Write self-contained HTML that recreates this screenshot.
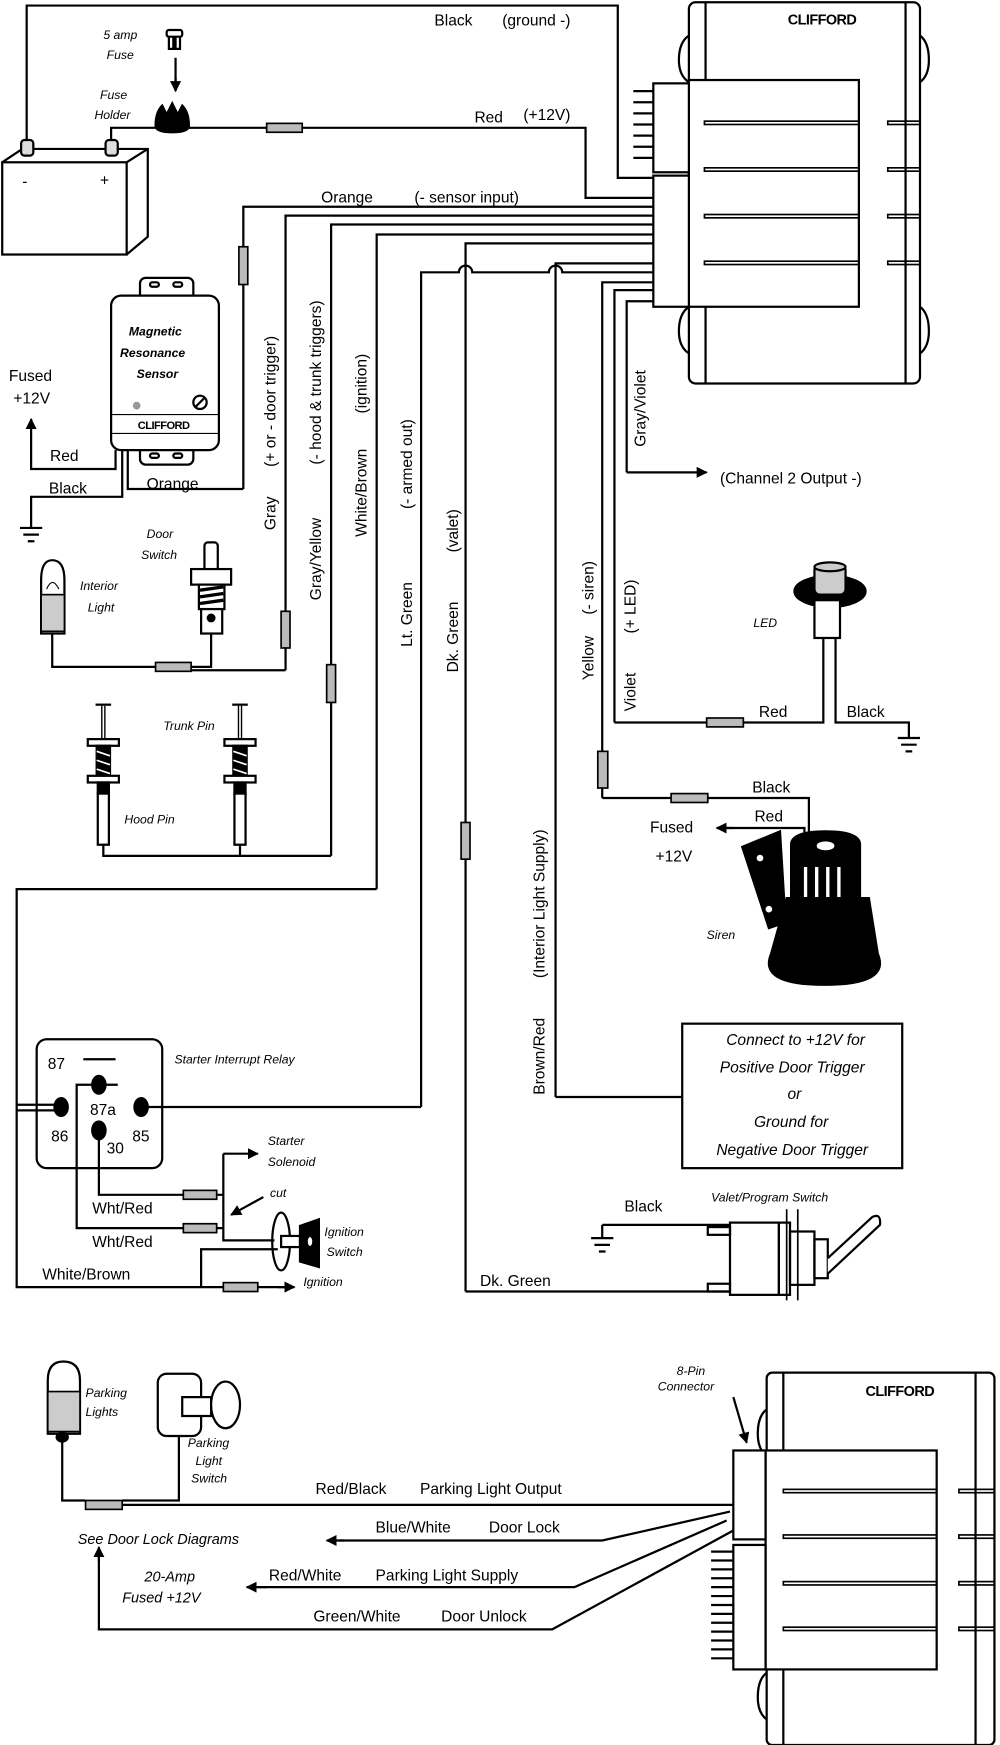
<!DOCTYPE html>
<html><head><meta charset="utf-8"><style>
html,body{margin:0;padding:0;background:#fff}
svg{display:block}
text{font-family:"Liberation Sans",sans-serif;fill:#000}
.l{font-size:14px}
.i{font-size:11px;font-style:italic}
.ib{font-size:13px;font-style:italic}
.v{font-size:14px}
</style></head><body>
<svg width="1000" height="1745" viewBox="0 0 900 1570" preserveAspectRatio="none" xmlns="http://www.w3.org/2000/svg">
<defs>
<marker id="ar" viewBox="0 0 10 10" refX="9" refY="5" markerWidth="5" markerHeight="5" orient="auto"><path d="M0,0L10,5L0,10z" fill="#000"/></marker>
</defs>
<g fill="none" stroke="#000" stroke-width="2">
<!-- top module -->
<rect x="620" y="2" width="208" height="343" rx="6"/>
<line x1="635" y1="2" x2="635" y2="345"/><line x1="815" y1="2" x2="815" y2="345"/>
<path d="M620,32 q-9,6 -9,22 q0,14 9,20" /><path d="M828,32 q8,6 8,22 q0,14 -8,20"/>
<path d="M620,276 q-9,6 -9,22 q0,14 9,20"/><path d="M828,276 q8,6 8,22 q0,14 -8,20"/>
<rect x="620" y="72" width="153" height="204" fill="#fff"/>
<rect x="588" y="75" width="32" height="80" fill="#fff"/>
<rect x="588" y="158" width="32" height="118" fill="#fff"/>
<g stroke-width="2"><line x1="570" y1="82" x2="588" y2="82"/><line x1="570" y1="92" x2="588" y2="92"/><line x1="570" y1="102" x2="588" y2="102"/><line x1="570" y1="112" x2="588" y2="112"/><line x1="570" y1="122" x2="588" y2="122"/><line x1="570" y1="132" x2="588" y2="132"/><line x1="570" y1="142" x2="588" y2="142"/></g>
<g stroke-width="1.5"><rect x="634" y="109" width="139" height="3"/><rect x="634" y="151" width="139" height="3"/><rect x="634" y="193" width="139" height="3"/><rect x="634" y="235" width="139" height="3"/>
<rect x="799" y="109" width="29" height="3"/><rect x="799" y="151" width="29" height="3"/><rect x="799" y="193" width="29" height="3"/><rect x="799" y="235" width="29" height="3"/></g>

<!-- battery -->
<rect x="2" y="146" width="112" height="83"/>
<path d="M2,146 L20,134 L133,134 L133,213 L114,229 M114,146 L133,134"/>
<rect x="19" y="126" width="11" height="14" rx="3" fill="#ddd"/><rect x="95" y="126" width="11" height="14" rx="3" fill="#ddd"/>
<!-- black ground -->
<path d="M24,126 V5 H556 V160 H588"/>
<!-- red -->
<path d="M100,126 V115 H140 M165,115 H527 V178 H588"/>
<rect x="240" y="111" width="32" height="8" fill="#bbb" stroke-width="1.5"/>
<!-- wires to module -->
<path d="M219,440 V186 H588"/>
<path d="M257,603 V194 H588"/>
<path d="M298,770 V202 H588"/>
<path d="M339,800 V211 H588"/>
<path d="M419,1162 V219 H588"/>
<path d="M500,987 V237 H588"/>
<path d="M379,996 V245 H413 a6,6 0 0 1 12,0 H494 a6,6 0 0 1 12,0 H588"/>
<path d="M542,718 V254 H588"/>
<path d="M553,650 V261 H588"/>
<path d="M564,425 H636" marker-end="url(#ar)"/><path d="M564,425 V271 H588"/>
<!-- fuses -->
<g fill="#bbb" stroke-width="1.5">
<rect x="215" y="222" width="8" height="34"/>
<rect x="253" y="550" width="8" height="33"/>
<rect x="294" y="598" width="8" height="34"/>
<rect x="415" y="740" width="8" height="33"/>
<rect x="538" y="676" width="9" height="33"/>
<rect x="636" y="646" width="33" height="8"/>
<rect x="604" y="714" width="33" height="8"/>
<rect x="140" y="596" width="32" height="8"/>
</g>
<!-- sensor -->
<rect x="126" y="250" width="48" height="20" rx="5" fill="#fff"/>
<rect x="126" y="398" width="48" height="20" rx="5" fill="#fff"/>
<rect x="100" y="266" width="97" height="139" rx="9" fill="#fff"/>
<line x1="100" y1="373" x2="197" y2="373" stroke-width="1"/>
<line x1="100" y1="390" x2="197" y2="390" stroke-width="1"/>
<rect x="135" y="254" width="8" height="4" rx="2"/><rect x="156" y="254" width="8" height="4" rx="2"/>
<rect x="135" y="408" width="8" height="4" rx="2"/><rect x="156" y="408" width="8" height="4" rx="2"/>
<circle cx="180" cy="362" r="6"/><line x1="176" y1="366" x2="184" y2="358"/>
<circle cx="123" cy="365" r="2.5" fill="#999" stroke="#999"/>
<path d="M104,405 V422 H28 V378"/><path d="M28,380 l0,-3" marker-end="url(#ar)"/>
<path d="M110,405 V447 H28 V475"/>
<path d="M18,475 H38 M21,481 H35 M25,487 H31"/>
<path d="M115,405 V440 H219"/>
<!-- interior light -->
<path d="M37,570 V522 q0,-18 10,-18 q11,0 11,18 V570 z" fill="#fff"/>
<rect x="37" y="535" width="21" height="33" fill="#ccc" stroke-width="1.5"/>
<path d="M42,530 q5,-12 11,0" stroke-width="1"/>
<path d="M47,570 V600 H140 M172,600 H190 V570"/>
<path d="M172,603 H257"/>
<!-- door switch -->
<rect x="184" y="488" width="12" height="27" rx="3" fill="#fff"/>
<rect x="172" y="512" width="36" height="14" fill="#fff"/>
<rect x="179" y="526" width="23" height="22" fill="#fff"/>
<path d="M180,531 L201,528 M180,537 L201,534 M180,543 L201,540" stroke-width="3"/>
<rect x="181" y="548" width="19" height="22" fill="#fff"/>
<circle cx="190" cy="556" r="3" fill="#000"/>
<!-- pins -->
<g id="pin">
<line x1="93" y1="635" x2="93" y2="665" stroke-width="4"/>
<line x1="93" y1="635" x2="93" y2="665" stroke="#fff" stroke-width="1.5"/>
<line x1="86" y1="634" x2="100" y2="634"/>
<rect x="79" y="665" width="28" height="6" fill="#fff"/>
<rect x="87" y="671" width="12" height="29" fill="#000"/>
<path d="M87,676 L99,680 M87,684 L99,688 M87,692 L99,696" stroke="#fff" stroke-width="1.5"/>
<rect x="79" y="698" width="28" height="6" fill="#fff"/>
<rect x="88" y="704" width="10" height="10" fill="#000"/>
<rect x="88" y="714" width="10" height="46" fill="#fff"/>
</g>
<use href="#pin" x="123"/>
<path d="M93,760 V770 H298 M216,760 V770"/>
<!-- white/brown to relay -->
<path d="M339,800 H15 V1158 H201 M232,1158 H263" /><path d="M250,1158 H265" marker-end="url(#ar)"/>
<!-- relay -->
<rect x="33" y="935" width="113" height="116" rx="9"/>
<line x1="75" y1="953" x2="104" y2="953"/>
<ellipse cx="89" cy="976" rx="6" ry="8" fill="#000"/>
<ellipse cx="55" cy="996" rx="6" ry="8" fill="#000"/>
<ellipse cx="127" cy="996" rx="6" ry="8" fill="#000"/>
<ellipse cx="89" cy="1017" rx="6" ry="8" fill="#000"/>
<path d="M106,976 H69 V1105 H165 M195,1105 H201"/>
<path d="M89,1017 V1075 H165 M195,1075 H201"/>
<path d="M15,994 H55 M15,999 H55"/>
<path d="M127,996 H379"/>
<path d="M201,1038 V1116 H247"/>
<path d="M201,1038 H232" marker-end="url(#ar)"/>
<path d="M237,1077 L208,1093" marker-end="url(#ar)"/>
<path d="M181,1158 V1124 H250"/>
<g fill="#bbb" stroke-width="1.5"><rect x="165" y="1071" width="30" height="8"/><rect x="165" y="1101" width="30" height="8"/><rect x="201" y="1154" width="31" height="8"/></g>
<ellipse cx="253" cy="1117" rx="8" ry="26"/>
<rect x="253" y="1112" width="17" height="10" fill="#fff"/>
<path d="M270,1103 L287,1097 L287,1140 L270,1135 z" fill="#000"/>
<ellipse cx="279" cy="1117" rx="2" ry="4" fill="#fff" stroke="none"/>
<!-- brown/red box -->
<path d="M500,987 H614"/>
<rect x="614" y="921" width="198" height="130"/>
<!-- valet switch -->
<path d="M542,1102 H657 M419,1162 H657"/>
<path d="M542,1102 V1114 M532,1114 H552 M535,1120 H549 M539,1126 H545"/>
<rect x="657" y="1100" width="44" height="65"/>
<rect x="637" y="1104" width="20" height="7"/><rect x="637" y="1155" width="20" height="7"/>
<rect x="701" y="1100" width="10" height="65"/>
<rect x="711" y="1108" width="22" height="48"/>
<rect x="733" y="1115" width="12" height="35"/>
<path d="M708,1088 V1170 M718,1088 V1170" stroke-width="1.5"/>
<path d="M745,1132 L785,1095 q8,-4 7,7 L745,1146" fill="#fff"/>
<!-- LED -->
<ellipse cx="747" cy="532" rx="32" ry="14" fill="#000"/>
<rect x="733" y="508" width="28" height="27" rx="5" fill="#ccc"/>
<ellipse cx="747" cy="510" rx="14" ry="4" fill="#ccc"/>
<rect x="733" y="540" width="23" height="34" fill="#fff"/>
<path d="M741,574 V650 H669 M636,650 H553"/>
<path d="M752,574 V650 H818 V664 M808,664 H828 M811,670 H825 M815,676 H821"/>
<!-- siren -->
<path d="M542,718 H604 M637,718 H728 V760"/>
<path d="M724,760 V745 H650"/><path d="M660,745 H645" marker-end="url(#ar)"/>
<path d="M668,762 L702,748 L707,830 L692,835 Z" fill="#000"/>
<circle cx="684" cy="772" r="3" fill="#fff" stroke="none"/><circle cx="692" cy="818" r="3" fill="#fff" stroke="none"/>
<path d="M712,810 V760 q0,-12 31,-12 q31,0 31,12 V810 Z" fill="#000"/>
<ellipse cx="743" cy="761" rx="8" ry="4" fill="#fff" stroke="none"/>
<path d="M725,780 V808 M735,780 V808 M745,780 V808 M755,780 V808" stroke="#fff" stroke-width="3"/>
<path d="M708,808 L782,808 L790,858 q12,28 -48,28 q-60,0 -48,-28 Z" fill="#000"/>

<!-- fuse holder and fuse -->
<path d="M140,113 q0,-12 6,-18 l4,8 l5,-10 l5,10 l4,-8 q6,6 6,18 q0,6 -15,6 q-15,0 -15,-6z" fill="#000"/>
<rect x="150" y="27" width="14" height="6" rx="2" fill="#fff"/>
<path d="M152,33 V44 H156 V33 M158,33 V44 H162 V33"/>
<path d="M158,52 V78"/><path d="M158,70 V82" marker-end="url(#ar)"/>

<!-- bottom module -->
<rect x="690" y="1235" width="205" height="335" rx="5"/>
<line x1="705" y1="1235" x2="705" y2="1570"/><line x1="878" y1="1235" x2="878" y2="1570"/>
<path d="M690,1268 q-8,6 -8,22 q0,14 8,20"/><path d="M690,1505 q-8,6 -8,22 q0,14 8,20"/>
<rect x="689" y="1305" width="154" height="197" fill="#fff"/>
<rect x="660" y="1305" width="29" height="80" fill="#fff"/>
<rect x="660" y="1390" width="29" height="112" fill="#fff"/>
<g stroke-width="2"><path d="M640,1396 H660 M640,1404 H660 M640,1412 H660 M640,1420 H660 M640,1428 H660 M640,1436 H660 M640,1444 H660 M640,1452 H660 M640,1460 H660 M640,1468 H660 M640,1476 H660 M640,1484 H660 M640,1492 H660"/></g>
<g stroke-width="1.5"><rect x="705" y="1340" width="138" height="3"/><rect x="705" y="1381" width="138" height="3"/><rect x="705" y="1423" width="138" height="3"/><rect x="705" y="1464" width="138" height="3"/>
<rect x="863" y="1340" width="32" height="3"/><rect x="863" y="1381" width="32" height="3"/><rect x="863" y="1423" width="32" height="3"/><rect x="863" y="1464" width="32" height="3"/></g>
<path d="M660,1257 L672,1298" marker-end="url(#ar)"/>
<!-- bottom wires -->
<path d="M110,1354 H660"/>
<rect x="77" y="1350" width="33" height="8" fill="#bbb" stroke-width="1.5"/>
<path d="M56,1293 V1350 H77 M110,1350 H161 V1292"/>
<path d="M657,1360 L542,1386 H305"/><path d="M310,1386 H294" marker-end="url(#ar)"/>
<path d="M654,1368 L517,1428 H232"/><path d="M240,1428 H222" marker-end="url(#ar)"/>
<path d="M660,1377 L497,1466 H89 V1400"/><path d="M89,1405 V1392" marker-end="url(#ar)"/>
<!-- parking light + switch -->
<path d="M43,1290 V1242 q0,-17 14,-17 q15,0 15,17 V1290 z" fill="#fff"/>
<rect x="43" y="1252" width="29" height="36" fill="#ccc" stroke-width="1.5"/>
<ellipse cx="56" cy="1293" rx="5" ry="4" fill="#000"/>
<rect x="142" y="1236" width="39" height="56" rx="8" fill="#fff"/>
<rect x="164" y="1257" width="26" height="17" fill="#fff"/>
<ellipse cx="203" cy="1264" rx="13" ry="21" fill="#fff"/>
</g>

<!-- text -->
<text class="l" x="391" y="23">Black</text><text class="l" x="452" y="23">(ground -)</text>
<text class="i" x="93" y="35">5 amp</text><text class="i" x="96" y="53">Fuse</text>
<text class="i" x="90" y="89">Fuse</text><text class="i" x="85" y="107">Holder</text>
<text class="l" x="427" y="110">Red</text><text class="l" x="471" y="108">(+12V)</text>
<text style="font-size:13px;font-weight:bold;letter-spacing:-0.5px" x="709" y="22">CLIFFORD</text>
<text style="font-size:14px" x="20" y="168">-</text><text style="font-size:14px" x="90" y="167">+</text>
<text class="l" x="289" y="182">Orange</text><text class="l" x="373" y="182">(- sensor input)</text>
<text style="font-size:11px;font-style:italic;font-weight:bold" x="116" y="302">Magnetic</text>
<text style="font-size:11px;font-style:italic;font-weight:bold" x="108" y="321">Resonance</text>
<text style="font-size:11px;font-style:italic;font-weight:bold" x="123" y="340">Sensor</text>
<text style="font-size:10px;font-weight:bold;letter-spacing:-0.5px" x="124" y="386">CLIFFORD</text>
<text class="l" x="8" y="343">Fused</text><text class="l" x="12" y="363">+12V</text>
<text class="l" x="45" y="415">Red</text><text class="l" x="44" y="444">Black</text>
<text class="l" x="132" y="440">Orange</text>
<text class="i" x="132" y="484">Door</text><text class="i" x="127" y="503">Switch</text>
<text class="i" x="72" y="531">Interior</text><text class="i" x="79" y="550">Light</text>
<text class="i" x="147" y="657">Trunk Pin</text><text class="i" x="112" y="741">Hood Pin</text>
<text class="l" x="648" y="435">(Channel 2 Output -)</text>
<text class="i" x="678" y="564">LED</text>
<text class="l" x="683" y="645">Red</text><text class="l" x="762" y="645">Black</text>
<text class="l" x="677" y="713">Black</text><text class="l" x="679" y="739">Red</text>
<text class="l" x="585" y="749">Fused</text><text class="l" x="590" y="775">+12V</text>
<text class="i" x="636" y="845">Siren</text>
<g font-style="italic" style="font-size:14px" text-anchor="middle">
<text x="716" y="940">Connect to +12V for</text><text x="713" y="965">Positive Door Trigger</text>
<text x="715" y="989">or</text><text x="712" y="1014">Ground for</text><text x="713" y="1039">Negative Door Trigger</text></g>
<text class="i" x="157" y="957">Starter Interrupt Relay</text>
<text class="l" x="43" y="962">87</text><text class="l" x="81" y="1003">87a</text>
<text class="l" x="46" y="1027">86</text><text class="l" x="119" y="1027">85</text><text class="l" x="96" y="1038">30</text>
<text class="i" x="241" y="1030">Starter</text><text class="i" x="241" y="1049">Solenoid</text>
<text class="i" x="243" y="1077">cut</text>
<text class="l" x="83" y="1092">Wht/Red</text><text class="l" x="83" y="1122">Wht/Red</text>
<text class="i" x="292" y="1112">Ignition</text><text class="i" x="294" y="1130">Switch</text>
<text class="l" x="38" y="1151">White/Brown</text><text class="i" x="273" y="1157">Ignition</text>
<text class="l" x="562" y="1090">Black</text><text class="i" x="640" y="1081">Valet/Program Switch</text>
<text class="l" x="432" y="1157">Dk. Green</text>
<!-- vertical labels -->
<g class="v">
<text transform="translate(248,477) rotate(-90)">Gray</text>
<text transform="translate(248,420) rotate(-90)">(+ or - door trigger)</text>
<text transform="translate(289,540) rotate(-90)">Gray/Yellow</text>
<text transform="translate(289,418) rotate(-90)">(- hood &amp; trunk triggers)</text>
<text transform="translate(330,483) rotate(-90)">White/Brown</text>
<text transform="translate(330,372) rotate(-90)">(ignition)</text>
<text transform="translate(371,582) rotate(-90)">Lt. Green</text>
<text transform="translate(371,458) rotate(-90)">(- armed out)</text>
<text transform="translate(412,605) rotate(-90)">Dk. Green</text>
<text transform="translate(412,497) rotate(-90)">(valet)</text>
<text transform="translate(534,612) rotate(-90)">Yellow</text>
<text transform="translate(534,553) rotate(-90)">(- siren)</text>
<text transform="translate(572,640) rotate(-90)">Violet</text>
<text transform="translate(572,570) rotate(-90)">(+ LED)</text>
<text transform="translate(581,402) rotate(-90)">Gray/Violet</text>
<text transform="translate(490,985) rotate(-90)">Brown/Red</text>
<text transform="translate(490,880) rotate(-90)">(Interior Light Supply)</text>
</g>
<!-- bottom text -->
<text class="i" x="77" y="1257">Parking</text><text class="i" x="77" y="1274">Lights</text>
<text class="i" x="169" y="1302">Parking</text><text class="i" x="176" y="1318">Light</text><text class="i" x="172" y="1334">Switch</text>
<text class="i" x="609" y="1237">8-Pin</text><text class="i" x="592" y="1251">Connector</text>
<text style="font-size:13px;font-weight:bold;letter-spacing:-0.5px" x="779" y="1256">CLIFFORD</text>
<text class="l" x="284" y="1344">Red/Black</text><text class="l" x="378" y="1344">Parking Light Output</text>
<text class="l" x="338" y="1379">Blue/White</text><text class="l" x="440" y="1379">Door Lock</text>
<text class="ib" x="70" y="1389">See Door Lock Diagrams</text>
<text class="l" x="242" y="1422">Red/White</text><text class="l" x="338" y="1422">Parking Light Supply</text>
<text class="ib" x="130" y="1423">20-Amp</text><text class="ib" x="110" y="1442">Fused +12V</text>
<text class="l" x="282" y="1459">Green/White</text><text class="l" x="397" y="1459">Door Unlock</text>
</svg>
</body></html>
